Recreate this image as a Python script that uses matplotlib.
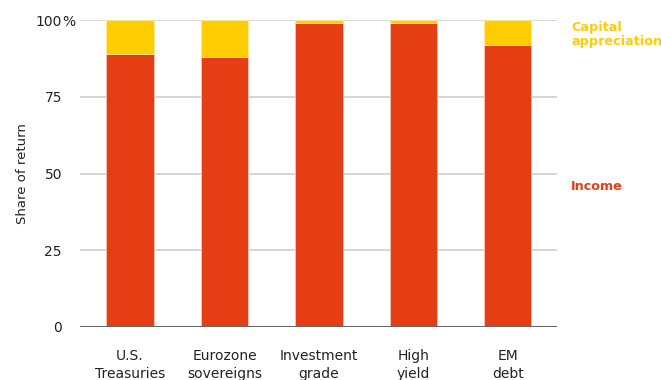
import matplotlib
matplotlib.use("Agg")
import matplotlib.pyplot as plt

categories = ["U.S.\nTreasuries", "Eurozone\nsovereigns", "Investment\ngrade", "High\nyield", "EM\ndebt"]
income = [89, 88, 99, 99, 92]
capital = [11, 12, 1, 1, 8]
yticks = [0, 25, 50, 75, 100]
ytick_labels = ["0", "25", "50", "75", "100"]

RED = "#E53E15"
YEL = "#FFCD00"
W, H = 661, 380

fig = plt.figure(figsize=(6.61, 3.8), dpi=100)
ax = fig.add_axes([80 / W, 1 - 327 / H, 477 / W, 307 / H])
x = list(range(len(categories)))
ax.bar(x, income, width=0.5, color=RED, edgecolor="#F7C6B8", linewidth=0.6, zorder=3)
ax.bar(x, capital, width=0.5, bottom=income, color=YEL, edgecolor="#FFE9A0", linewidth=0.6, zorder=3)

ax.set_xlim(-0.53, 4.52)
ax.set_ylim(0, 100)
ax.set_yticks(yticks)
ax.set_yticklabels(ytick_labels)
ax.set_xticks(x)
ax.set_xticklabels(categories, linespacing=1.35)
ax.grid(axis="y", color="#CFCFCF", linewidth=1.2, zorder=0)
ax.axhline(0, color="#666666", linewidth=1.5, zorder=4)
for s in ax.spines.values():
    s.set_visible(False)
ax.tick_params(axis="both", length=0, labelsize=10, colors="#222222")
ax.tick_params(axis="y", pad=13)
ax.tick_params(axis="x", pad=16)
# percent sign after the top tick label
fig.text(62 / W, 1 - 20 / H, "%", fontsize=10, color="#222222", ha="left", va="center_baseline")

ax.set_ylabel("Share of return", fontsize=9.5, color="#222222")
ax.yaxis.set_label_coords((29 - 80) / 477, 0.5)

fig.text(571 / W, 1 - 21 / H, "Capital\nappreciation", color=YEL,
         fontsize=9.2, fontweight="bold", va="top", ha="left", linespacing=1.05)
fig.text(571 / W, 1 - 186 / H, "Income", color=RED,
         fontsize=9.2, fontweight="bold", va="center", ha="left")

fig.savefig("out.png", dpi=100)
